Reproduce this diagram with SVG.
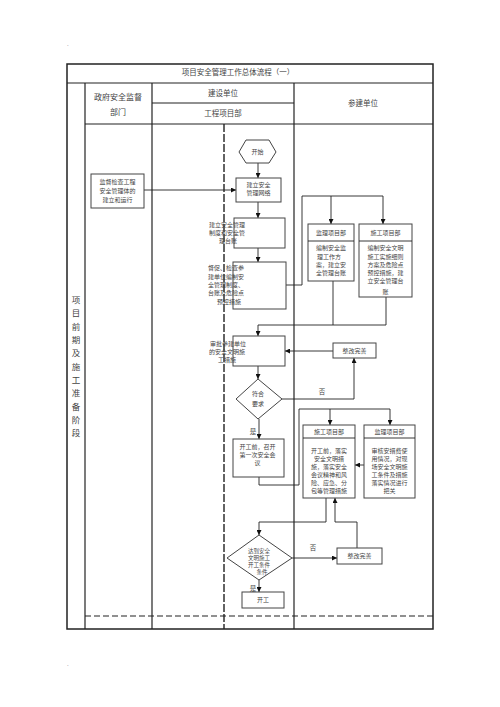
<svg xmlns="http://www.w3.org/2000/svg" width="500" height="707" viewBox="0 0 500 707">
<defs>
<marker id="ah" viewBox="0 0 10 10" refX="10" refY="5" markerWidth="5" markerHeight="5" orient="auto" markerUnits="userSpaceOnUse"><path d="M0,0 L10,5 L0,10 z" fill="#111"/></marker>
<style>
text{font-family:"Noto Sans CJK SC","Noto Sans",sans-serif;fill:#444;}
.hd{font-size:7.5px;text-anchor:middle;}
.t{font-size:6px;text-anchor:middle;}
.ts{font-size:5.5px;text-anchor:middle;}
.v{font-size:8.5px;text-anchor:middle;}
.lbl{font-size:6.5px;text-anchor:middle;}
.frame{fill:none;stroke:#222;stroke-width:1.5;}
.col{fill:none;stroke:#222;stroke-width:1.2;}
.box{fill:#fff;stroke:#444;stroke-width:1;}
.ln{fill:none;stroke:#222;stroke-width:0.9;}
.arr{fill:none;stroke:#222;stroke-width:0.9;marker-end:url(#ah);}
</style>
</defs>
<rect width="500" height="707" fill="#fff"/>
<text x="67" y="46" style="font-size:6px;fill:#888">.</text>
<text x="67" y="666" style="font-size:6px;fill:#888">.</text>
<g id="table">
<rect class="frame" x="67" y="64" width="366" height="565"/>
<line class="col" x1="67" y1="83" x2="433" y2="83"/>
<line class="col" x1="85" y1="124" x2="433" y2="124"/>
<line class="col" x1="152" y1="103" x2="294" y2="103"/>
<line class="col" x1="85" y1="83" x2="85" y2="629"/>
<line class="col" x1="152" y1="83" x2="152" y2="629"/>
<line class="col" x1="294" y1="83" x2="294" y2="629"/>
<line x1="224" y1="124" x2="224" y2="629" stroke="#222" stroke-width="1.4" stroke-dasharray="8 2"/>
<line x1="85" y1="616" x2="433" y2="616" stroke="#222" stroke-width="1.2" stroke-dasharray="6 3"/>
<text class="hd" x="238" y="75">项目安全管理工作总体流程（一）</text>
<text class="hd" x="118" y="100" style="font-size:8px">政府安全监督</text>
<text class="hd" x="118" y="115" style="font-size:8px">部门</text>
<text class="hd" x="223" y="96">建设单位</text>
<text class="hd" x="223" y="116">工程项目部</text>
<text class="hd" x="363" y="106">参建单位</text>
<text class="v" x="76" y="303">项</text>
<text class="v" x="76" y="316">目</text>
<text class="v" x="76" y="330">前</text>
<text class="v" x="76" y="343">期</text>
<text class="v" x="76" y="356">及</text>
<text class="v" x="76" y="370">施</text>
<text class="v" x="76" y="383">工</text>
<text class="v" x="76" y="396">准</text>
<text class="v" x="76" y="410">备</text>
<text class="v" x="76" y="423">阶</text>
<text class="v" x="76" y="436">段</text>
</g>
<g id="connectors">
<line class="arr" x1="144" y1="190" x2="236" y2="190"/>
<line class="arr" x1="258" y1="163" x2="258" y2="178"/>
<line class="arr" x1="258" y1="202" x2="258" y2="218"/>
<line class="arr" x1="258" y1="248" x2="258" y2="262"/>
<polyline class="ln" points="286,285 302,285 302,196 383,196"/>
<line class="arr" x1="331" y1="196" x2="331" y2="224"/>
<line class="arr" x1="383" y1="196" x2="383" y2="224"/>
<polyline class="ln" points="333,281 333,325"/>
<polyline class="ln" points="386,297 386,325 258,325"/>
<line class="arr" x1="258" y1="325" x2="258" y2="336"/>
<line class="arr" x1="333" y1="351" x2="285" y2="351"/>
<line class="arr" x1="258" y1="366" x2="258" y2="379"/>
<polyline class="arr" points="282,399 354,399 354,358"/>
<text class="lbl" x="322" y="394">否</text>
<line class="arr" x1="259" y1="419" x2="259" y2="439"/>
<text class="lbl" x="253" y="434">是</text>
<polyline class="ln" points="259,477 259,485 299,485 299,409 390,409"/>
<line class="arr" x1="330" y1="409" x2="330" y2="425"/>
<line class="arr" x1="390" y1="409" x2="390" y2="425"/>
<line class="arr" x1="364" y1="465" x2="355" y2="465"/>
<polyline class="arr" points="326,498 326,522 259,522 259,535"/>
<polyline class="arr" points="357,548 357,522 335,522 335,498"/>
<line class="arr" x1="292" y1="558" x2="337" y2="558"/>
<text class="lbl" x="313" y="550">否</text>
<line class="arr" x1="259" y1="580" x2="259" y2="592"/>
<text class="lbl" x="253" y="591">是</text>
</g>
<g id="n-supervise">
<rect class="box" x="91" y="174" width="53" height="34"/>
<text class="t" x="117.5" y="184">监督检查工程</text>
<text class="t" x="117.5" y="193">安全管理体的</text>
<text class="t" x="117.5" y="202">建立和运行</text>
</g>
<g id="n-start">
<polygon class="box" points="239,152 246,140 269,140 276,152 269,163 246,163"/>
<text class="t" x="257.5" y="154">开始</text>
</g>
<g id="n-network">
<rect class="box" x="236" y="178" width="45" height="24"/>
<text class="t" x="258.5" y="187">建立安全</text>
<text class="t" x="258.5" y="195">管理网络</text>
</g>
<g id="n-system">
<rect class="box" x="234" y="218" width="51" height="30"/>
<text class="t" x="227" y="227">建立安全管理</text>
<text class="t" x="227" y="235">制度和安全管</text>
<text class="t" x="228" y="243">理台账</text>
</g>
<g id="n-urge">
<rect class="box" x="233" y="262" width="53" height="47"/>
<text class="t" x="226" y="270">督促、检查参</text>
<text class="t" x="226" y="279">建单位编制安</text>
<text class="t" x="226" y="287">全管理制度、</text>
<text class="t" x="226" y="295">台账及危险点</text>
<text class="t" x="229" y="304">预控措施</text>
</g>
<g id="n-sup1">
<rect class="box" x="308" y="224" width="46" height="57"/>
<line class="ln" x1="308" y1="241" x2="354" y2="241" stroke="#444"/>
<text class="t" x="331" y="235">监理项目部</text>
<text class="t" x="331" y="250">编制安全监</text>
<text class="t" x="329" y="259">理工作方</text>
<text class="t" x="331" y="267">案，建立安</text>
<text class="t" x="331" y="275">全管理台账</text>
</g>
<g id="n-con1">
<rect class="box" x="359" y="224" width="53" height="73"/>
<line class="ln" x1="359" y1="241" x2="412" y2="241" stroke="#444"/>
<text class="t" x="385.5" y="235">施工项目部</text>
<text class="t" x="385.5" y="250">编制安全文明</text>
<text class="t" x="385.5" y="259">施工实施细则</text>
<text class="t" x="385.5" y="267">方案及危险点</text>
<text class="t" x="385.5" y="275">预控措施，建</text>
<text class="t" x="385.5" y="283">立安全管理台</text>
<text class="t" x="385.5" y="294">账</text>
</g>
<g id="n-approve">
<rect class="box" x="233" y="336" width="52" height="30"/>
<text class="t" x="228" y="346">审批参建单位</text>
<text class="t" x="227" y="354">的安全文明施</text>
<text class="t" x="227" y="362">工措施</text>
</g>
<g id="n-fix1">
<rect class="box" x="333" y="343" width="43" height="15"/>
<text class="t" x="354.5" y="353">整改完善</text>
</g>
<g id="n-check">
<polygon class="box" points="258,379 282,399 258,419 236,399"/>
<text class="t" x="258" y="396">符合</text>
<text class="t" x="258" y="406">要求</text>
</g>
<g id="n-meeting">
<rect class="box" x="233" y="439" width="51" height="38"/>
<text class="t" x="257.5" y="449">开工前，召开</text>
<text class="t" x="257.5" y="457">第一次安全会</text>
<text class="t" x="257.5" y="465">议</text>
</g>
<g id="n-con2">
<rect class="box" x="303" y="425" width="52" height="73"/>
<line class="ln" x1="303" y1="438" x2="355" y2="438" stroke="#444"/>
<text class="t" x="329" y="434">施工项目部</text>
<text class="t" x="329" y="453">开工前，落实</text>
<text class="t" x="329" y="461">安全文明措</text>
<text class="t" x="329" y="469">施，落实安全</text>
<text class="t" x="329" y="477">会议精神和风</text>
<text class="t" x="329" y="485">险、应急、分</text>
<text class="t" x="329" y="493">包等管理措施</text>
</g>
<g id="n-sup2">
<rect class="box" x="364" y="425" width="51" height="73"/>
<line class="ln" x1="364" y1="438" x2="415" y2="438" stroke="#444"/>
<text class="t" x="389.5" y="434">监理项目部</text>
<text class="t" x="389.5" y="453">审核安措费使</text>
<text class="t" x="389.5" y="461">用情况，对现</text>
<text class="t" x="389.5" y="469">场安全文明施</text>
<text class="t" x="389.5" y="477">工条件及措施</text>
<text class="t" x="389.5" y="485">落实情况进行</text>
<text class="t" x="389.5" y="493">把关</text>
</g>
<g id="n-reach">
<polygon class="box" points="259,535 292,558 259,580 227,558"/>
<text class="ts" x="259" y="553">达到安全</text>
<text class="ts" x="259" y="560">文明施工</text>
<text class="ts" x="259" y="567">开工条件</text>
<text class="ts" x="262" y="574">条件</text>
</g>
<g id="n-fix2">
<rect class="box" x="337" y="548" width="45" height="16"/>
<text class="t" x="359.5" y="558">整改完善</text>
</g>
<g id="n-open">
<rect class="box" x="242" y="592" width="42" height="16"/>
<text class="t" x="263" y="602">开工</text>
</g>
</svg>
